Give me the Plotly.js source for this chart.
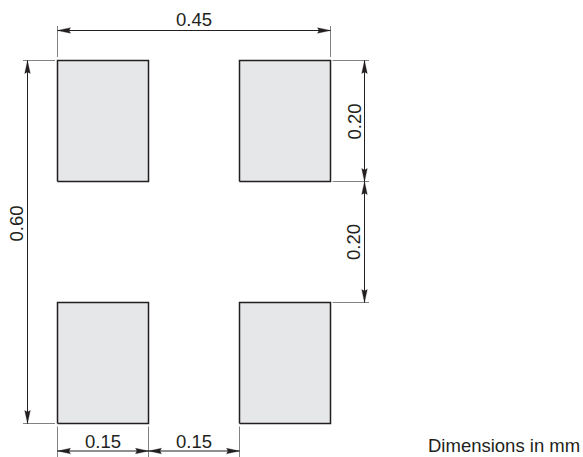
<!DOCTYPE html>
<html><head><meta charset="utf-8">
<script src="https://cdn.plot.ly/plotly-3.0.1.min.js"></script>
<style>html,body{margin:0;padding:0;background:#fff}#c{width:583px;height:457px}</style>
</head><body><div id="c"></div>
<script>
// Values in mm
const padLeftEdges = [0, 0.30];
const padBottomEdges = [0, 0.40];
const padWidth = 0.15;
const padHeight = 0.20;
const overallWidth = 0.45;
const overallHeight = 0.60;
const horizontalSpans = [[0, 0.45, '0.45'], [0, 0.15, '0.15'], [0.15, 0.30, '0.15']];
const leftSpans = [[0, 0.60, '0.60']];
const rightSpans = [[0.40, 0.60, '0.20'], [0.20, 0.40, '0.20']];
const noteText = 'Dimensions in mm';

// Page geometry: px <-> mm
const W = 583, H = 457, x0px = 57.5, y0px = 423.5, kx = 91 / 0.15, ky = 121 / 0.20;
const mx = px => (px - x0px) / kx;
const my = py => (y0px - py) / ky;

const INK = '#231f20', GREY = '#808285', FONT = '"Liberation Sans", Arial, sans-serif';
const traces = [];

// pads
const px = [], py = [];
padLeftEdges.forEach(l => padBottomEdges.forEach(b => {
  px.push(l, l + padWidth, l + padWidth, l, l, null);
  py.push(b, b, b + padHeight, b + padHeight, b, null);
}));
traces.push({x: px, y: py, mode: 'lines', fill: 'toself', fillcolor: '#e6e7e8',
  line: {color: INK, width: 1.5}, hoverinfo: 'skip'});

// extension lines
const ex = [], ey = [];
const vExt = (x, a, b) => { ex.push(x, x, null); ey.push(my(a), my(b), null); };
const hExt = (y, a, b) => { ex.push(mx(a), mx(b), null); ey.push(y, y, null); };
[0, overallWidth].forEach(x => vExt(x, 26, 57));
[0, 0.15, 0.30].forEach(x => vExt(x, 426.5, 457));
[0, overallHeight].forEach(y => hExt(y, 23, 55));
[0.20, 0.40, 0.60].forEach(y => hExt(y, 332.5, 369));
traces.push({x: ex, y: ey, mode: 'lines', line: {color: GREY, width: 1}, hoverinfo: 'skip'});

// dimension lines + arrowheads
const lx = [], ly = [], hx = [], hy = [];
const HL = 13, HW = 2.8, NOTCH = 11.5;
function hDim(a, b, py) {
  const y = my(py);
  lx.push(a, b, null); ly.push(y, y, null);
  [[a, 1], [b, -1]].forEach(([t, d]) => {
    hx.push(t, t + d * HL / kx, t + d * NOTCH / kx, t + d * HL / kx, t, null);
    hy.push(y, y + HW / ky, y, y - HW / ky, y, null);
  });
}
function vDim(a, b, pxv) {
  const x = mx(pxv);
  lx.push(x, x, null); ly.push(a, b, null);
  [[a, 1], [b, -1]].forEach(([t, d]) => {
    hy.push(t, t + d * HL / ky, t + d * NOTCH / ky, t + d * HL / ky, t, null);
    hx.push(x, x + HW / kx, x, x - HW / kx, x, null);
  });
}
hDim(horizontalSpans[0][0], horizontalSpans[0][1], 30.5);
hDim(horizontalSpans[1][0], horizontalSpans[1][1], 451);
hDim(horizontalSpans[2][0], horizontalSpans[2][1], 451);
vDim(leftSpans[0][0], leftSpans[0][1], 27.5);
rightSpans.forEach(s => vDim(s[0], s[1], 364.5));
traces.push({x: lx, y: ly, mode: 'lines', line: {color: INK, width: 1}, hoverinfo: 'skip'});
traces.push({x: hx, y: hy, mode: 'lines', fill: 'toself', fillcolor: INK,
  line: {color: INK, width: 0.3}, hoverinfo: 'skip'});

// labels
const ann = (text, xv, yv, angle) => ({text, x: xv, y: yv, xref: 'x', yref: 'y',
  showarrow: false, textangle: angle || 0, xanchor: 'center', yanchor: 'middle',
  font: {family: FONT, size: 18.5, color: INK}});
const mid = s => (s[0] + s[1]) / 2;
const annotations = [
  ann(horizontalSpans[0][2], mid(horizontalSpans[0]), my(19.5)),
  ann(horizontalSpans[1][2], mid(horizontalSpans[1]), my(441)),
  ann(horizontalSpans[2][2], mid(horizontalSpans[2]), my(441)),
  ann(leftSpans[0][2], mx(15.5), my(224), -90),
  ann(rightSpans[0][2], mx(353.5), my(122), -90),
  ann(rightSpans[1][2], mx(353.5), my(242.5), -90),
  ann(noteText, mx(503.5), my(445))
];

Plotly.newPlot('c', traces, {
  width: W, height: H, margin: {l: 0, r: 0, t: 0, b: 0},
  paper_bgcolor: '#fff', plot_bgcolor: '#fff', showlegend: false,
  xaxis: {range: [mx(0), mx(W)], visible: false, fixedrange: true},
  yaxis: {range: [my(H), my(0)], visible: false, fixedrange: true},
  annotations
}, {displayModeBar: false, staticPlot: true});
</script></body></html>
